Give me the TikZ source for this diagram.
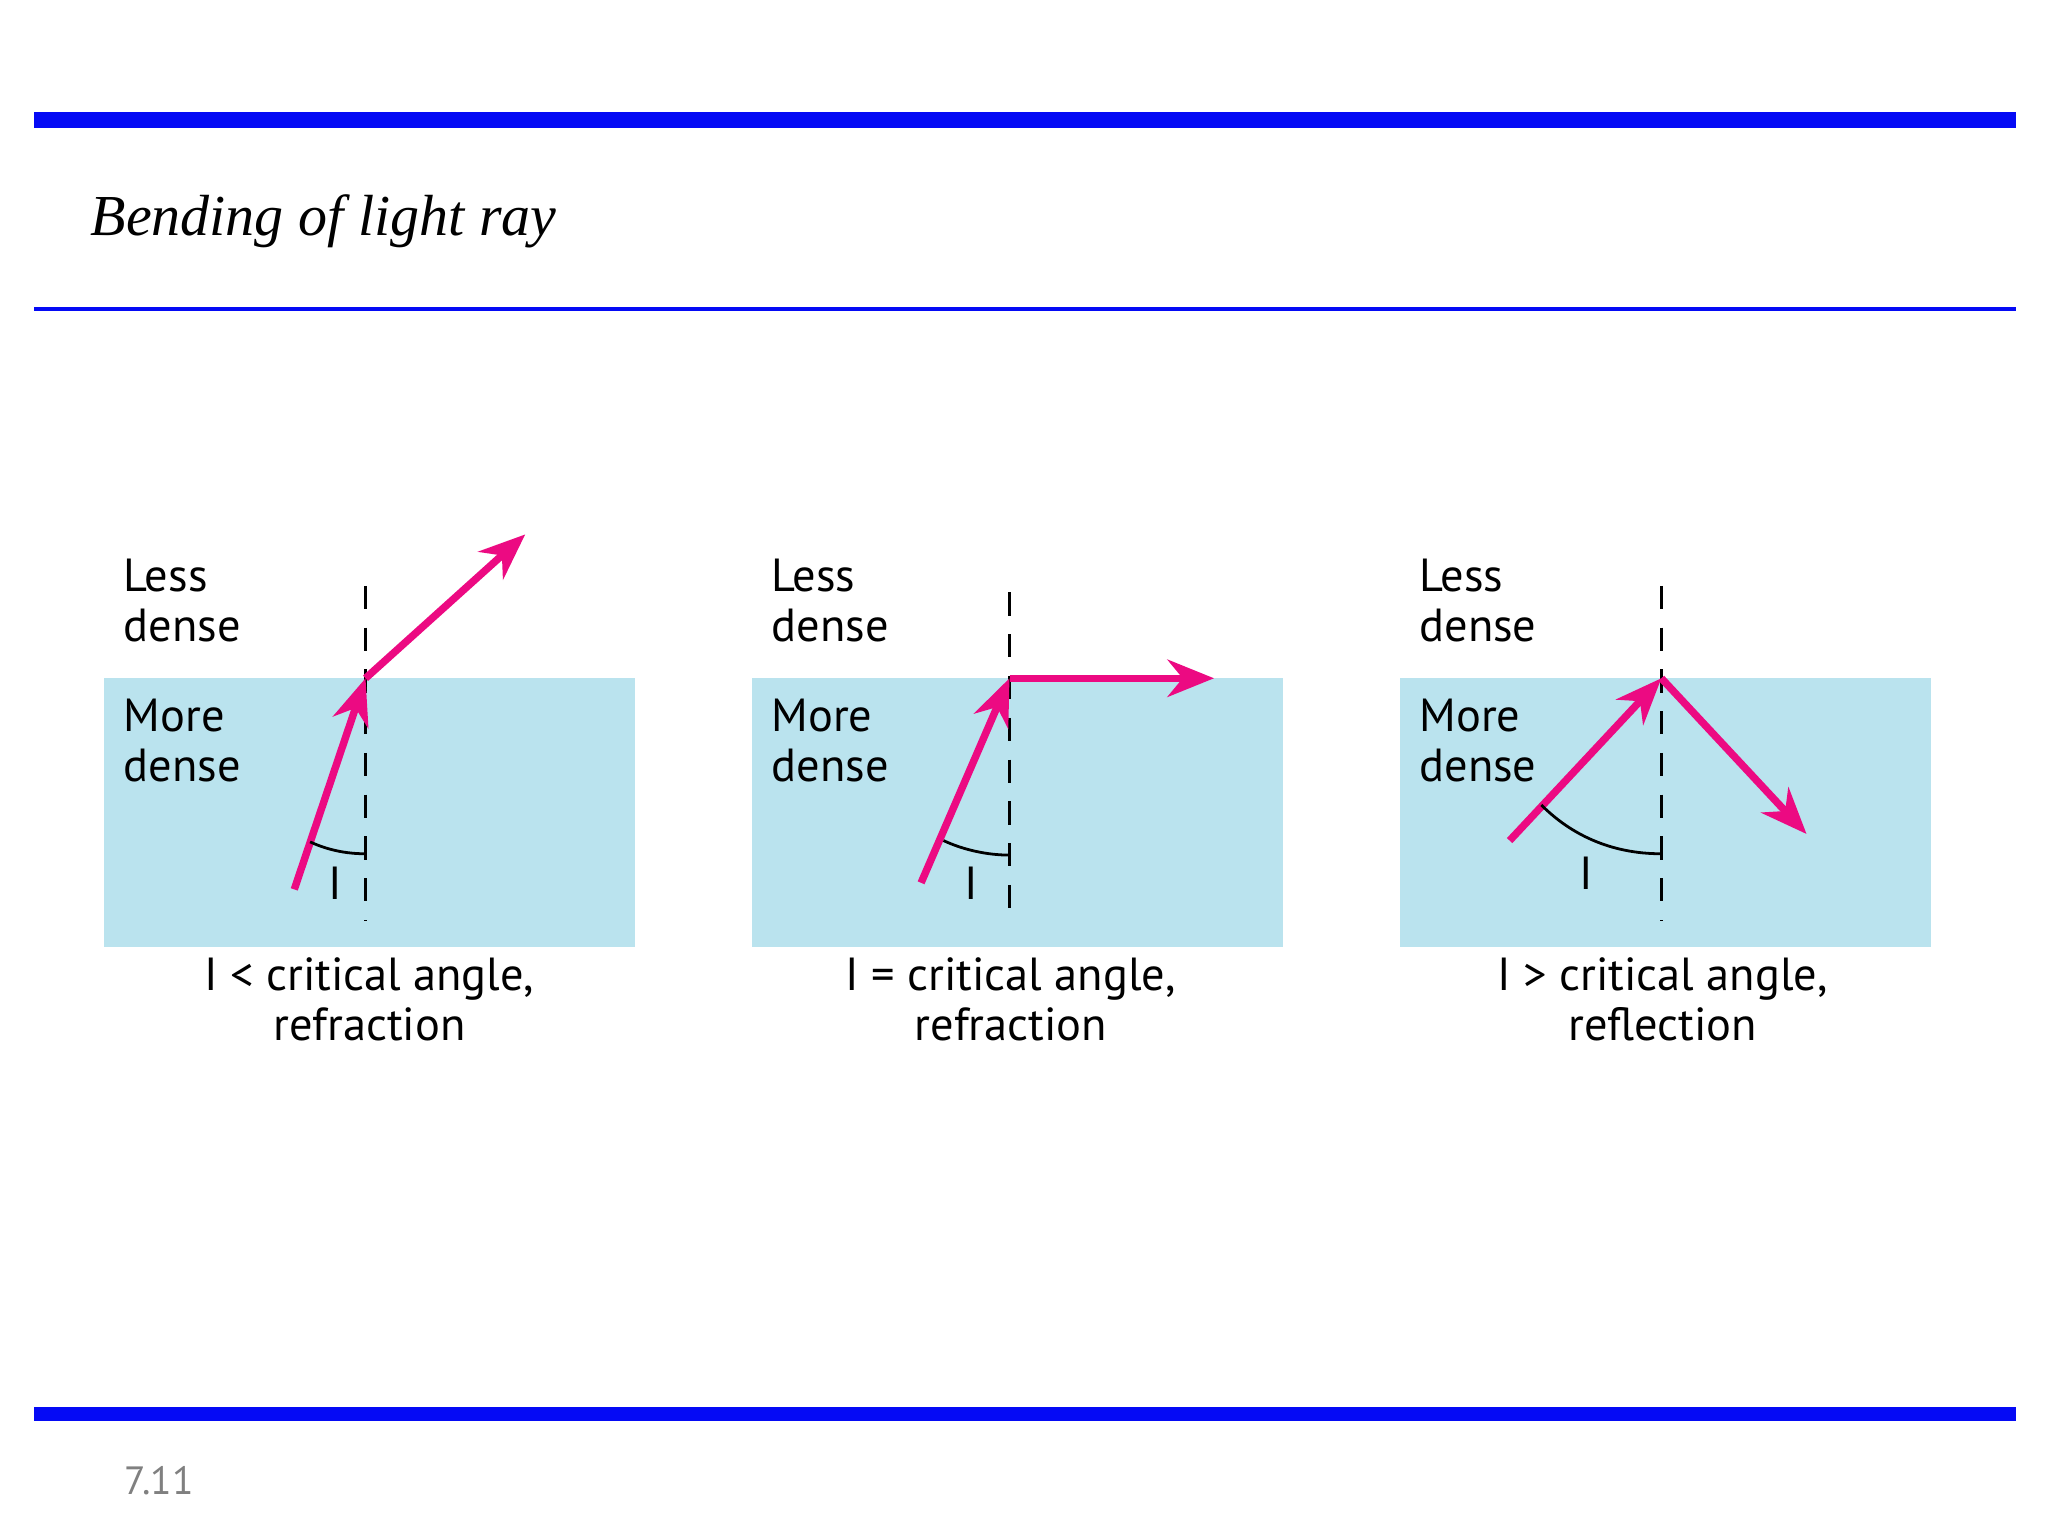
\documentclass[tikz,border=0pt]{standalone}
\usepackage{fontspec}
\setmainfont{PT Sans}
\newfontfamily\titlefont{Liberation Serif}
\usetikzlibrary{arrows.meta}
\definecolor{bar}{RGB}{5,10,245}
\definecolor{water}{RGB}{186,227,238}
\definecolor{ray}{RGB}{236,10,130}
\tikzset{
  raypath/.style={ray, line width=1.6pt, -{Stealth[length=10pt,width=8pt]}},
  normal/.style={black, line width=0.8pt, dash pattern=on 5pt off 4pt},
  lbl/.style={font=\fontsize{10}{10.8}\selectfont, align=left, anchor=west, inner sep=0pt},
  captext/.style={font=\fontsize{10}{10.8}\selectfont, align=center, inner sep=0pt},
  arcline/.style={black, line width=0.6pt}
}
\begin{document}
\begin{tikzpicture}[x=0.01cm,y=-0.01cm]
\useasboundingbox[fill=white] (0,0) rectangle (1552,1164);
\fill[bar] (26,85) rectangle (1528,97);
\fill[bar] (26,233) rectangle (1528,236);
\fill[bar] (26,1066) rectangle (1528,1077);
\node[anchor=west,inner sep=0pt,font=\titlefont\itshape\fontsize{12.5}{14}\selectfont] (title) at (68,168) {Bending of light ray};
\node[anchor=west,inner sep=0pt,text=gray,font=\fontsize{8.5}{10}\selectfont] (num) at (94,1122) {7.11};
% panel 1
\fill[water] (79,514) rectangle (481,718);
\coordinate (n1t) at (277,444); \coordinate (n1b) at (277,698);
\draw[normal] (n1t) -- (n1b);
\coordinate (s1) at (223,674); \coordinate (p1) at (277,514); \coordinate (e1) at (398,405);
\draw[raypath] (s1) -- (p1);
\draw[raypath] (p1) -- (e1);
\coordinate (a1s) at (235,638); \coordinate (a1e) at (277,647);
\draw[arcline] (a1s) .. controls (248,644) and (262,647) .. (a1e);
\node[captext] (i1) at (254,669) {I};
\node[lbl] (ld1) at (93,455) {Less\\dense};
\node[lbl] (md1) at (93,561) {More\\dense};
\node[captext] (c1) at (280,757) {I < critical angle,\\refraction};
% panel 2
\fill[water] (570,514) rectangle (972,718);
\coordinate (n2t) at (765,449); \coordinate (n2b) at (765,702);
\draw[normal] (n2t) -- (n2b);
\coordinate (s2) at (698,669); \coordinate (p2) at (765,514); \coordinate (e2) at (920,514);
\draw[raypath] (s2) -- (p2);
\draw[raypath] (p2) -- (e2);
\coordinate (a2s) at (715,637); \coordinate (a2e) at (765,648);
\draw[arcline] (a2s) .. controls (730,644) and (748,648) .. (a2e);
\node[captext] (i2) at (736,669) {I};
\node[lbl] (ld2) at (584,455) {Less\\dense};
\node[lbl] (md2) at (584,561) {More\\dense};
\node[captext] (c2) at (766,757) {I = critical angle,\\refraction};
% panel 3
\fill[water] (1061,514) rectangle (1463,718);
\coordinate (n3t) at (1259,444); \coordinate (n3b) at (1259,698);
\draw[normal] (n3t) -- (n3b);
\coordinate (s3) at (1144,637); \coordinate (p3) at (1259,514); \coordinate (e3) at (1369,632);
\draw[raypath] (s3) -- (p3);
\draw[raypath] (p3) -- (e3);
\coordinate (a3s) at (1168,610); \coordinate (a3e) at (1259,647);
\draw[arcline] (a3s) .. controls (1190,632) and (1220,647) .. (a3e);
\node[captext] (i3) at (1202,662) {I};
\node[lbl] (ld3) at (1075,455) {Less\\dense};
\node[lbl] (md3) at (1075,561) {More\\dense};
\node[captext] (c3) at (1260,757) {I > critical angle,\\reflection};
\end{tikzpicture}
\end{document}
